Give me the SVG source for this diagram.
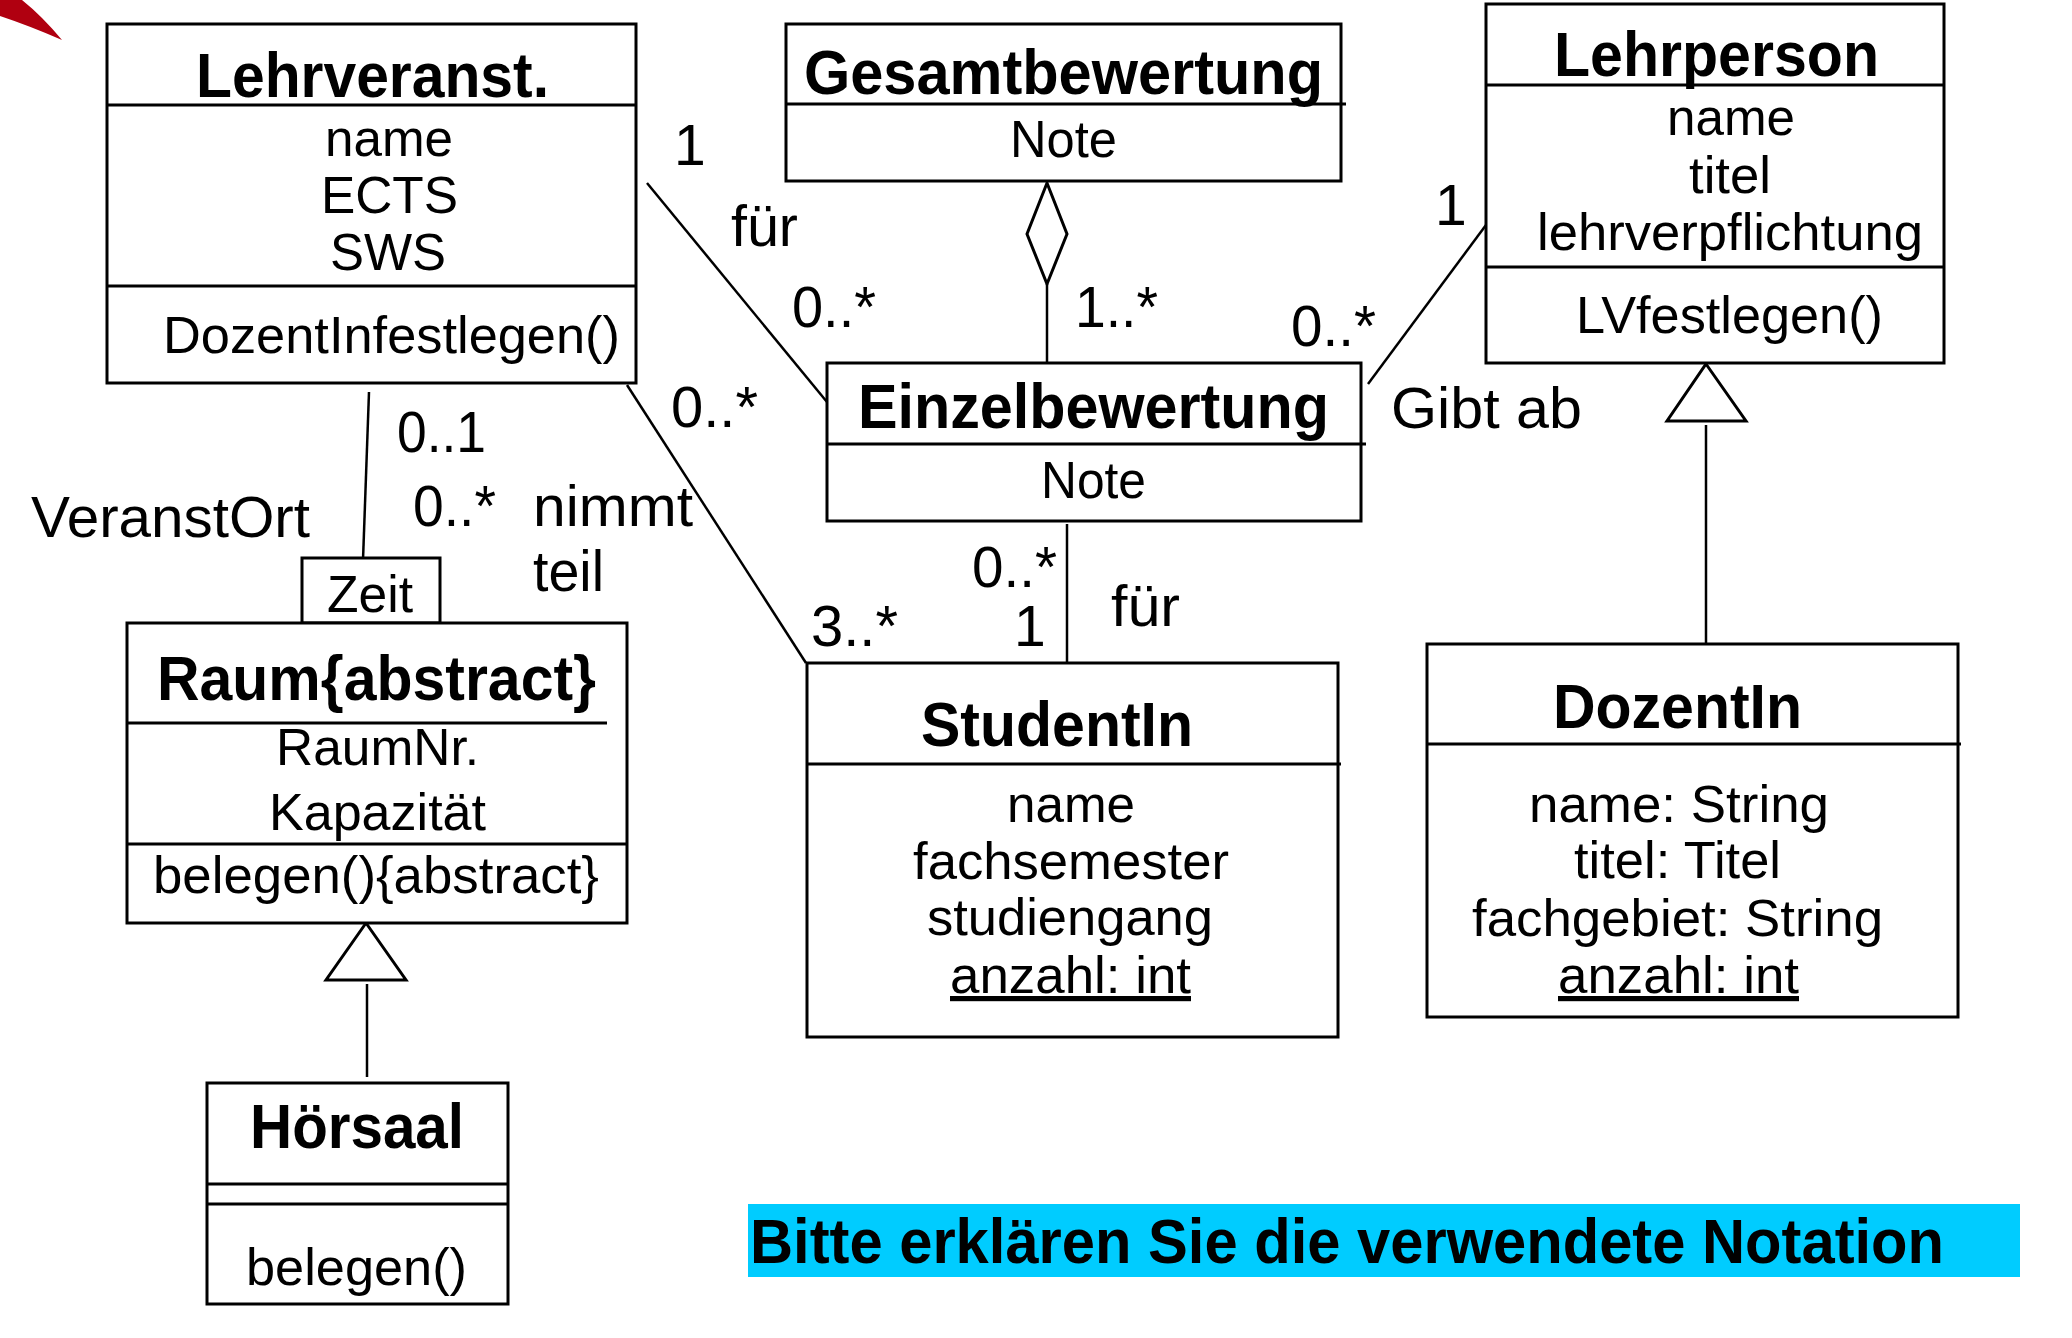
<svg xmlns="http://www.w3.org/2000/svg" width="2072" height="1338" viewBox="0 0 2072 1338">
<style>
text{font-family:"Liberation Sans",Arial,sans-serif;fill:#000}
.t{font-weight:bold;font-size:63px}
.a{font-size:52px}
.l{font-size:57px}
.box{fill:#fff;stroke:#000;stroke-width:3}
.sep{stroke:#000;stroke-width:3;fill:none}
.con{stroke:#000;stroke-width:2.5;fill:none}
.head{fill:#fff;stroke:#000;stroke-width:3}
</style>
<rect width="2072" height="1338" fill="#fff"/>
<path d="M0,0 L22,0 Q42,16 62,40 Q30,26 0,16 Z" fill="#b00010"/>

<g id="connectors">
  <line class="con" x1="647" y1="183" x2="827" y2="402"/>
  <line class="con" x1="627" y1="385" x2="806" y2="663"/>
  <line class="con" x1="369" y1="392" x2="363" y2="560"/>
  <line class="con" x1="1047" y1="284" x2="1047" y2="363"/>
  <polygon class="head" points="1047,183 1067,234 1047,284 1027,234"/>
  <line class="con" x1="1368" y1="384" x2="1486" y2="225"/>
  <line class="con" x1="1067" y1="524" x2="1067" y2="663"/>
  <line class="con" x1="1706" y1="425" x2="1706" y2="644"/>
  <polygon class="head" points="1706,364 1746,421 1667,421"/>
  <line class="con" x1="367" y1="984" x2="367" y2="1077"/>
  <polygon class="head" points="366,923 406,980 326,980"/>
</g>

<g id="labels" class="l">
  <text x="674" y="165">1</text>
  <text x="731" y="246" textLength="67" lengthAdjust="spacingAndGlyphs">für</text>
  <text x="792" y="327" textLength="84" lengthAdjust="spacingAndGlyphs">0..*</text>
  <text x="1075" y="327" textLength="83" lengthAdjust="spacingAndGlyphs">1..*</text>
  <text x="1291" y="346" textLength="85" lengthAdjust="spacingAndGlyphs">0..*</text>
  <text x="1435" y="225">1</text>
  <text x="1391" y="428" textLength="191" lengthAdjust="spacingAndGlyphs">Gibt ab</text>
  <text x="671" y="427" textLength="87" lengthAdjust="spacingAndGlyphs">0..*</text>
  <text x="397" y="452" textLength="89" lengthAdjust="spacingAndGlyphs">0..1</text>
  <text x="31" y="537" textLength="279" lengthAdjust="spacingAndGlyphs">VeranstOrt</text>
  <text x="413" y="526" textLength="83" lengthAdjust="spacingAndGlyphs">0..*</text>
  <text x="533" y="526" textLength="160" lengthAdjust="spacingAndGlyphs">nimmt</text>
  <text x="533" y="591" textLength="71" lengthAdjust="spacingAndGlyphs">teil</text>
  <text x="811" y="646" textLength="87" lengthAdjust="spacingAndGlyphs">3..*</text>
  <text x="972" y="587" textLength="85" lengthAdjust="spacingAndGlyphs">0..*</text>
  <text x="1014" y="646">1</text>
  <text x="1111" y="626" textLength="69" lengthAdjust="spacingAndGlyphs">für</text>
</g>

<g id="Lehrveranst">
  <rect class="box" x="107" y="24" width="529" height="359"/>
  <line class="sep" x1="107" y1="105" x2="636" y2="105"/>
  <line class="sep" x1="107" y1="286" x2="636" y2="286"/>
  <text class="t" x="196" y="97" textLength="353" lengthAdjust="spacingAndGlyphs">Lehrveranst.</text>
  <text class="a" x="325" y="156" textLength="128" lengthAdjust="spacingAndGlyphs">name</text>
  <text class="a" x="321" y="213" textLength="137" lengthAdjust="spacingAndGlyphs">ECTS</text>
  <text class="a" x="330" y="270" textLength="116" lengthAdjust="spacingAndGlyphs">SWS</text>
  <text class="a" x="163" y="353" textLength="457" lengthAdjust="spacingAndGlyphs">DozentInfestlegen()</text>
</g>

<g id="Gesamtbewertung">
  <rect class="box" x="786" y="24" width="555" height="157"/>
  <line class="sep" x1="786" y1="104" x2="1346" y2="104"/>
  <text class="t" x="804" y="94" textLength="519" lengthAdjust="spacingAndGlyphs">Gesamtbewertung</text>
  <text class="a" x="1010" y="157" textLength="107" lengthAdjust="spacingAndGlyphs">Note</text>
</g>

<g id="Lehrperson">
  <rect class="box" x="1486" y="4" width="458" height="359"/>
  <line class="sep" x1="1486" y1="85" x2="1944" y2="85"/>
  <line class="sep" x1="1486" y1="267" x2="1944" y2="267"/>
  <text class="t" x="1554" y="76" textLength="325" lengthAdjust="spacingAndGlyphs">Lehrperson</text>
  <text class="a" x="1667" y="135" textLength="128" lengthAdjust="spacingAndGlyphs">name</text>
  <text class="a" x="1689" y="193" textLength="82" lengthAdjust="spacingAndGlyphs">titel</text>
  <text class="a" x="1537" y="250" textLength="386" lengthAdjust="spacingAndGlyphs">lehrverpflichtung</text>
  <text class="a" x="1576" y="333" textLength="307" lengthAdjust="spacingAndGlyphs">LVfestlegen()</text>
</g>

<g id="Einzelbewertung">
  <rect class="box" x="827" y="363" width="534" height="158"/>
  <line class="sep" x1="827" y1="444" x2="1366" y2="444"/>
  <text class="t" x="858" y="428" textLength="471" lengthAdjust="spacingAndGlyphs">Einzelbewertung</text>
  <text class="a" x="1041" y="498" textLength="105" lengthAdjust="spacingAndGlyphs">Note</text>
</g>

<g id="Zeit">
  <rect class="box" x="302" y="558" width="138" height="65"/>
  <text class="a" x="327" y="612" textLength="86" lengthAdjust="spacingAndGlyphs">Zeit</text>
</g>

<g id="Raum">
  <rect class="box" x="127" y="623" width="500" height="300"/>
  <line class="sep" x1="127" y1="723" x2="607" y2="723"/>
  <line class="sep" x1="127" y1="844" x2="627" y2="844"/>
  <text class="t" x="157" y="700" textLength="439" lengthAdjust="spacingAndGlyphs">Raum{abstract}</text>
  <text class="a" x="276" y="765" textLength="203" lengthAdjust="spacingAndGlyphs">RaumNr.</text>
  <text class="a" x="269" y="830" textLength="217" lengthAdjust="spacingAndGlyphs">Kapazität</text>
  <text class="a" x="153" y="893" textLength="446" lengthAdjust="spacingAndGlyphs">belegen(){abstract}</text>
</g>

<g id="StudentIn">
  <rect class="box" x="807" y="663" width="531" height="374"/>
  <line class="sep" x1="807" y1="764" x2="1341" y2="764"/>
  <text class="t" x="921" y="746" textLength="272" lengthAdjust="spacingAndGlyphs">StudentIn</text>
  <text class="a" x="1007" y="822" textLength="128" lengthAdjust="spacingAndGlyphs">name</text>
  <text class="a" x="913" y="879" textLength="316" lengthAdjust="spacingAndGlyphs">fachsemester</text>
  <text class="a" x="927" y="935" textLength="286" lengthAdjust="spacingAndGlyphs">studiengang</text>
  <text class="a" x="950" y="993" textLength="241" lengthAdjust="spacingAndGlyphs" text-decoration="underline">anzahl: int</text>
</g>

<g id="DozentIn">
  <rect class="box" x="1427" y="644" width="531" height="373"/>
  <line class="sep" x1="1427" y1="744" x2="1961" y2="744"/>
  <text class="t" x="1553" y="728" textLength="249" lengthAdjust="spacingAndGlyphs">DozentIn</text>
  <text class="a" x="1529" y="822" textLength="300" lengthAdjust="spacingAndGlyphs">name: String</text>
  <text class="a" x="1574" y="878" textLength="207" lengthAdjust="spacingAndGlyphs">titel: Titel</text>
  <text class="a" x="1472" y="936" textLength="411" lengthAdjust="spacingAndGlyphs">fachgebiet: String</text>
  <text class="a" x="1558" y="993" textLength="241" lengthAdjust="spacingAndGlyphs" text-decoration="underline">anzahl: int</text>
</g>

<g id="Hoersaal">
  <rect class="box" x="207" y="1083" width="301" height="221"/>
  <line class="sep" x1="207" y1="1184" x2="508" y2="1184"/>
  <line class="sep" x1="207" y1="1204" x2="508" y2="1204"/>
  <text class="t" x="250" y="1148" textLength="214" lengthAdjust="spacingAndGlyphs">Hörsaal</text>
  <text class="a" x="246" y="1285" textLength="221" lengthAdjust="spacingAndGlyphs">belegen()</text>
</g>

<g id="Hinweis">
  <rect x="748" y="1204" width="1272" height="73" fill="#00ccff"/>
  <text class="t" x="750" y="1263" textLength="1194" lengthAdjust="spacingAndGlyphs">Bitte erklären Sie die verwendete Notation</text>
</g>
</svg>
